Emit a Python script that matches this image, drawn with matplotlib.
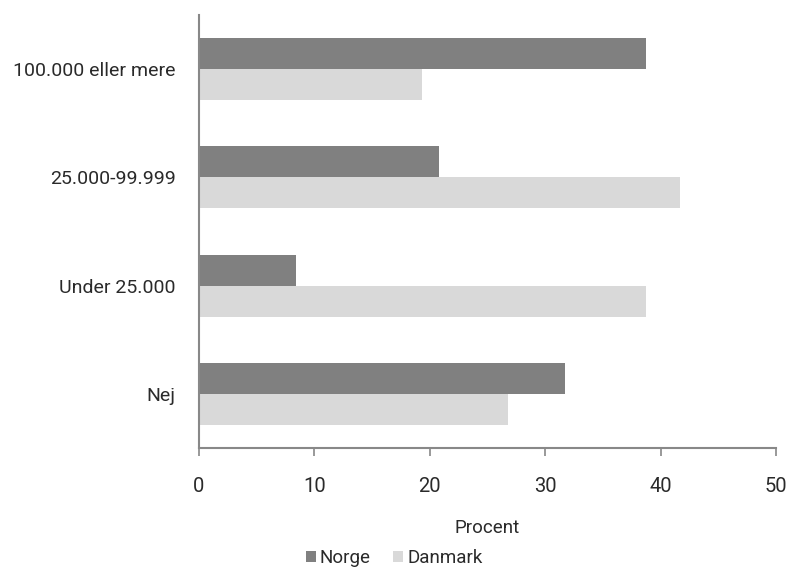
import matplotlib
matplotlib.use("Agg")
import matplotlib.pyplot as plt
import numpy as np

categories = ["Nej", "Under 25.000", "25.000-99.999", "100.000 eller mere"]
norge = [31.7, 8.4, 20.8, 38.7]
danmark = [26.8, 38.7, 41.7, 19.3]
xticks = [0, 10, 20, 30, 40, 50]

plt.rcParams['font.family'] = ['Roboto', 'DejaVu Sans']

fig = plt.figure(figsize=(7.9, 5.7), dpi=100)
ax = fig.add_axes([199/790, 1-448/570, (776-199)/790, (448-15)/570])

y = np.arange(len(categories))
h = 0.286
ax.barh(y + h/2, norge, height=h, color="#808080", label="Norge")
ax.barh(y - h/2, danmark, height=h, color="#d9d9d9", label="Danmark")

ax.set_xlim(0, 50)
ax.set_ylim(-0.5, 3.5)
ax.set_xticks(xticks)
ax.set_xticklabels([str(t) for t in xticks], fontsize=14.5, color="#2a2a2a")
ax.set_yticks(y)
ax.set_yticklabels(categories, fontsize=14, color="#2a2a2a")
ax.tick_params(axis='y', length=0, pad=17)
ax.tick_params(axis='x', length=6, width=1.2, color="#888888", pad=15, direction='out')

for s in ['top', 'right']:
    ax.spines[s].set_visible(False)
for s in ['left', 'bottom']:
    ax.spines[s].set_color("#888888")
    ax.spines[s].set_linewidth(1.5)

fig.text((199+776)/2/790, 1-528/570, "Procent", ha='center', va='center', fontsize=13.5,
         color="#2a2a2a")

leg = fig.legend(loc='center', bbox_to_anchor=(394/790, 1-558/570), ncol=2, frameon=False,
                 prop={'size': 13.5}, handlelength=0.55, handleheight=0.55,
                 handletextpad=0.2, columnspacing=1.2, labelcolor="#2a2a2a")

fig.savefig("out.png", dpi=100)
